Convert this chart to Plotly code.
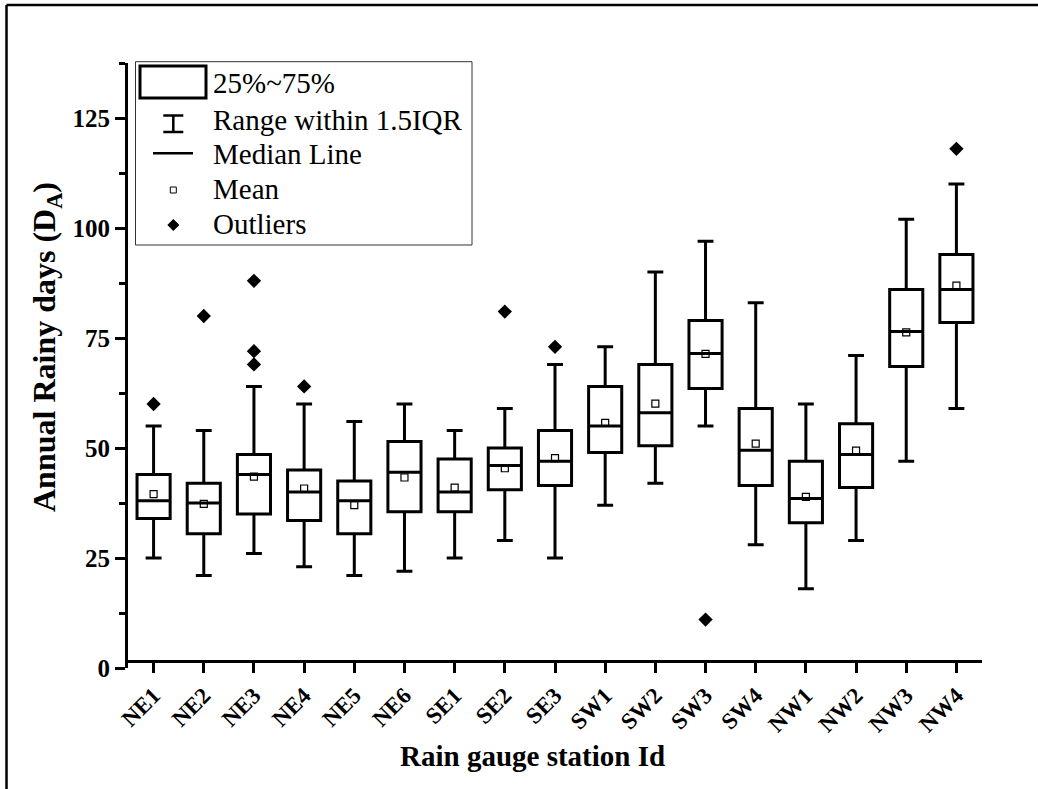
import plotly.graph_objects as go

# ---------------- data ----------------
stations = ["NE1", "NE2", "NE3", "NE4", "NE5", "NE6", "SE1", "SE2", "SE3",
            "SW1", "SW2", "SW3", "SW4", "NW1", "NW2", "NW3", "NW4"]
q1_vals = [34, 30.5, 35, 33.5, 30.5, 35.5, 35.5, 40.5, 41.5, 49, 50.5, 63.5, 41.5, 33, 41, 68.5, 78.5]
median_vals = [38, 37.5, 44, 40, 38, 44.5, 40, 46, 47, 55, 58, 71.5, 49.5, 38.5, 48.5, 76.5, 86]
q3_vals = [44, 42, 48.5, 45, 42.5, 51.5, 47.5, 50, 54, 64, 69, 79, 59, 47, 55.5, 86, 94]
lower_whisker = [25, 21, 26, 23, 21, 22, 25, 29, 25, 37, 42, 55, 28, 18, 29, 47, 59]
upper_whisker = [55, 54, 64, 60, 56, 60, 54, 59, 69, 73, 90, 97, 83, 60, 71, 102, 110]
mean_vals = [39.5, 37.3, 43.5, 40.8, 37.0, 43.3, 41.0, 45.4, 47.7, 55.7, 60.1, 71.4, 51.0, 38.9, 49.4, 76.3, 86.9]
outlier_stations = ["NE1", "NE2", "NE3", "NE3", "NE3", "NE4", "SE2", "SE3", "SW3", "NW4"]
outlier_vals = [60, 80, 88, 72, 69, 64, 81, 73, 11, 118]
y_ticks = [0, 25, 50, 75, 100, 125]

legend_labels = ["25%~75%", "Range within 1.5IQR", "Median Line", "Mean", "Outliers"]

# ---------------- layout geometry (pixels) ----------------
W, H = 1038, 789
L, R, T, B = 128, 982, 63, 668
FONT = "Liberation Serif"


def px(x):
    return (x - L) / (R - L)


def py(y):
    return (B - y) / (B - T)


fig = go.Figure()

fig.add_trace(go.Box(
    x=stations, q1=q1_vals, median=median_vals, q3=q3_vals,
    lowerfence=lower_whisker, upperfence=upper_whisker,
    boxpoints=False, width=0.66, whiskerwidth=0.48,
    line=dict(color="black", width=3), fillcolor="rgba(255,255,255,0)",
    showlegend=False, hoverinfo="skip",
))

fig.add_trace(go.Scatter(
    x=stations, y=mean_vals, mode="markers",
    marker=dict(symbol="square-open", size=7, color="black", line=dict(width=1.2)),
    showlegend=False,
))

fig.add_trace(go.Scatter(
    x=outlier_stations, y=outlier_vals, mode="markers",
    marker=dict(symbol="diamond", size=11, color="black"),
    showlegend=False,
))

shapes = []
annotations = []

# outer frame (left + top only)
shapes.append(dict(type="line", xref="paper", yref="paper",
                   x0=px(6.5), x1=px(6.5), y0=py(789), y1=py(5),
                   line=dict(color="black", width=2.5)))
shapes.append(dict(type="line", xref="paper", yref="paper",
                   x0=px(6.5), x1=px(1038), y0=py(5), y1=py(5),
                   line=dict(color="black", width=2.5)))

# custom legend
shapes.append(dict(type="rect", xref="paper", yref="paper",
                   x0=px(135.5), x1=px(472), y0=py(61.7), y1=py(245),
                   line=dict(color="#333", width=1), fillcolor="white", layer="above"))
# box icon
shapes.append(dict(type="rect", xref="paper", yref="paper",
                   x0=px(140), x1=px(206), y0=py(66), y1=py(98),
                   line=dict(color="black", width=3), layer="above"))
# I-beam
cx = 173.3
for (xa, ya, xb, yb) in [(cx, 115.5, cx, 132), (cx - 10, 115.5, cx + 10, 115.5),
                         (cx - 10, 132, cx + 10, 132)]:
    shapes.append(dict(type="line", xref="paper", yref="paper",
                       x0=px(xa), x1=px(xb), y0=py(ya), y1=py(yb),
                       line=dict(color="black", width=2.5), layer="above"))
# median line
shapes.append(dict(type="line", xref="paper", yref="paper",
                   x0=px(153), x1=px(193), y0=py(153.3), y1=py(153.3),
                   line=dict(color="black", width=2.5), layer="above"))
# mean square
shapes.append(dict(type="rect", xref="paper", yref="paper",
                   x0=px(cx - 3), x1=px(cx + 3), y0=py(187), y1=py(193),
                   line=dict(color="black", width=1), layer="above"))
# outlier diamond
dpath = "M {:.5f} {:.5f} L {:.5f} {:.5f} L {:.5f} {:.5f} L {:.5f} {:.5f} Z".format(
    px(cx), py(219.5), px(cx + 5.5), py(225), px(cx), py(230.5), px(cx - 5.5), py(225))
shapes.append(dict(type="path", xref="paper", yref="paper", path=dpath,
                   fillcolor="black", line=dict(color="black", width=1), layer="above"))

row_y = [83, 120, 154, 189, 224]
for lab, yy in zip(legend_labels, row_y):
    annotations.append(dict(text=lab, xref="paper", yref="paper", x=px(211), y=py(yy),
                            xanchor="left", yanchor="middle", showarrow=False,
                            font=dict(family=FONT, size=29, color="black")))

# axis titles
annotations.append(dict(text="<b>Annual Rainy days (D<sub>A</sub>)</b>", xref="paper", yref="paper",
                        x=px(46), y=py(347), textangle=-90, showarrow=False,
                        xanchor="center", yanchor="middle",
                        font=dict(family=FONT, size=32, color="black")))
annotations.append(dict(text="<b>Rain gauge station Id</b>", xref="paper", yref="paper",
                        x=px(532), y=py(756), showarrow=False,
                        xanchor="center", yanchor="middle",
                        font=dict(family=FONT, size=29, color="black")))

fig.update_layout(
    width=W, height=H,
    margin=dict(l=L, r=W - R, t=T, b=H - B, pad=0),
    paper_bgcolor="white", plot_bgcolor="white",
    showlegend=False,
    shapes=shapes, annotations=annotations,
    xaxis=dict(type="category", range=[-0.51, 16.51], showline=True, linewidth=3,
               linecolor="black", ticks="outside", ticklen=10, tickwidth=2.5, tickcolor="black",
               tickangle=-45, showgrid=False, zeroline=False,
               anchor="free", position=7 / (B - T),
               tickfont=dict(family=FONT, size=23, color="black", weight="bold")),
    yaxis=dict(range=[0, 137.5], tickvals=y_ticks, showline=True, linewidth=3,
               linecolor="black", ticks="outside", ticklen=10, tickwidth=2.5, tickcolor="black",
               showgrid=False, zeroline=False,
               minor=dict(dtick=12.5, ticks="outside", ticklen=6, tickwidth=2.5, tickcolor="black",
                          showgrid=False),
               tickfont=dict(family=FONT, size=25, color="black", weight="bold")),
)

fig.write_html("out.html", config={"displayModeBar": False},
               post_script="document.body.style.margin='0px';")
